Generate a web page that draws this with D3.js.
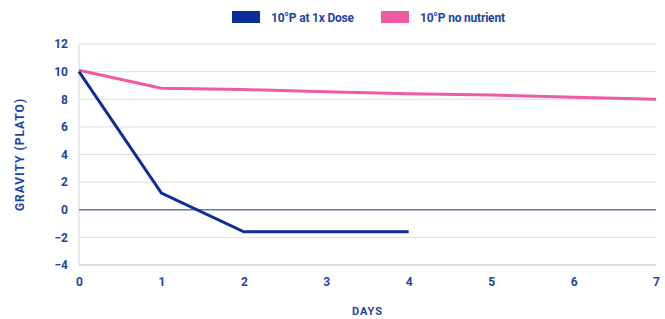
<!DOCTYPE html>
<html>
<head>
<meta charset="utf-8">
<script src="https://cdn.jsdelivr.net/npm/d3@7"></script>
<style>
  body { margin: 0; background: #fff; }
  text { font-family: Roboto, "Liberation Sans", sans-serif; font-weight: 700; fill: #1e44a6; }
</style>
</head>
<body>
<svg class="chart" width="665" height="319"></svg>
<script>
// data
let days = [0, 1, 2, 3, 4, 5, 6, 7];
let doseValues = [10, 1.2, -1.6, -1.6, -1.6];
let noNutrientValues = [10.1, 8.8, 8.7, 8.55, 8.4, 8.3, 8.15, 8.0];
let yTicks = [-4, -2, 0, 2, 4, 6, 8, 10, 12];
let seriesNames = ["10°P at 1x Dose", "10°P no nutrient"];
let seriesColors = ["#0b2f96", "#ef5aa3"];

let svg = d3.select(".chart"),
	margin = {top: 44, right: 9, bottom: 54, left: 79},
	width = svg.attr("width") - margin.left - margin.right,
	height = svg.attr("height") - margin.top - margin.bottom,
	g = svg.append("g").attr("transform", "translate(" + margin.left + "," + margin.top + ")");

let x = d3.scaleLinear().domain([0, 7]).range([0, width]),
	y = d3.scaleLinear().domain([-4, 12]).range([height, 0]);

//gridlines
g.selectAll(".grid")
	.data(yTicks.filter(function(d) { return d !== -4 && d !== 0; }))
	.enter()
	.append("line")
	.attr("x1", 0)
	.attr("x2", width)
	.attr("y1", function(d) { return y(d); })
	.attr("y2", function(d) { return y(d); })
	.style("stroke", "#dcdcdc")
	.style("stroke-width", 1);

//left axis line
g.append("line")
	.attr("x1", 0).attr("x2", 0)
	.attr("y1", y(12)).attr("y2", y(-4))
	.style("stroke", "#d6d6d6");

//bottom line
g.append("line")
	.attr("x1", 0).attr("x2", width)
	.attr("y1", y(-4)).attr("y2", y(-4))
	.style("stroke", "#dcdcdc")
	.style("stroke-width", 2);

//zero line
g.append("line")
	.attr("x1", 0).attr("x2", width)
	.attr("y1", y(0)).attr("y2", y(0))
	.style("stroke", "#6479bd")
	.style("stroke-width", 1.5);

//y tick labels
let yAxis = g.append("g")
	.call(d3.axisLeft(y).tickValues(yTicks).tickSize(0).tickPadding(11));
yAxis.select(".domain").remove();
yAxis.selectAll("text")
	.attr("fill", "#1e44a6")
	.style("font", "bold 12px Roboto");

//x tick labels
let xAxis = g.append("g")
	.attr("transform", "translate(0," + height + ")")
	.call(d3.axisBottom(x).tickValues(days).tickFormat(d3.format("d")).tickSize(0).tickPadding(12));
xAxis.select(".domain").remove();
xAxis.selectAll("text")
	.attr("fill", "#1e44a6")
	.style("font", "bold 12px Roboto");

//lines
let line = d3.line()
	.x(function(d, i) { return x(days[i]); })
	.y(function(d) { return y(d); });

g.append("path")
	.datum(noNutrientValues)
	.attr("d", line)
	.style("fill", "none")
	.style("stroke", seriesColors[1])
	.style("stroke-width", 3);

g.append("path")
	.datum(doseValues)
	.attr("d", line)
	.style("fill", "none")
	.style("stroke", seriesColors[0])
	.style("stroke-width", 3);

//legend
let legendX = [232, 381];
seriesNames.forEach(function(name, i) {
	svg.append("rect")
		.attr("x", legendX[i])
		.attr("y", 11)
		.attr("width", 28)
		.attr("height", 12)
		.style("fill", seriesColors[i]);
	svg.append("text")
		.attr("x", legendX[i] + 39)
		.attr("y", 22)
		.style("font", "bold 12px Roboto")
		.style("letter-spacing", "-0.2px")
		.text(name);
});

//axis titles
svg.append("text")
	.attr("transform", "translate(24," + (margin.top + y(4)) + ") rotate(-90)")
	.attr("text-anchor", "middle")
	.style("font", "bold 12px Roboto")
	.style("letter-spacing", "1px")
	.text("GRAVITY (PLATO)");

svg.append("text")
	.attr("x", margin.left + x(3.5))
	.attr("y", 315)
	.attr("text-anchor", "middle")
	.style("font", "bold 11px Roboto")
	.style("letter-spacing", "1px")
	.text("DAYS");
</script>
</body>
</html>
